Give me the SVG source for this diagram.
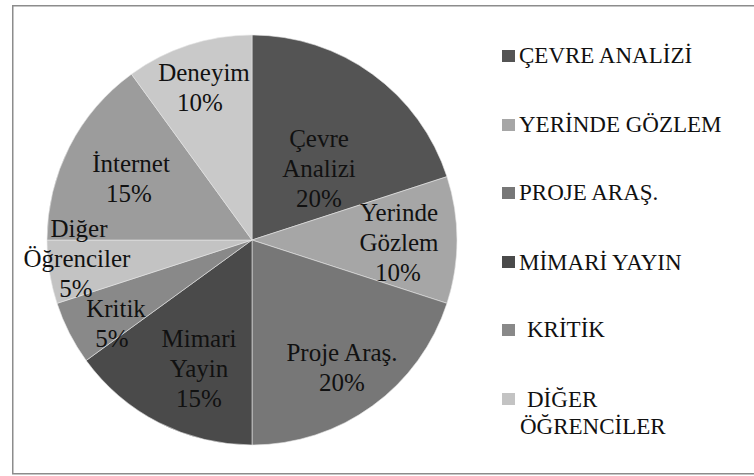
<svg xmlns="http://www.w3.org/2000/svg" width="754" height="476" viewBox="0 0 754 476">
<style>
.slice{stroke:#e6e6e6;stroke-width:0.6}
.lbl{font-size:25px;fill:#111;text-anchor:middle}
.leg{font-size:23px;fill:#111}
</style>
<rect x="0" y="0" width="754" height="476" fill="#ffffff"/>
<rect x="12.75" y="5.75" width="750" height="468" fill="#ffffff" stroke="#8c8c8c" stroke-width="1.5"/>
<g id="connectors"></g>
<g font-family="Liberation Serif, serif">
<g id="slice-cevre">
<path class="slice" fill="#545454" d="M252,240 L252,35 A205,205 0 0 1 446.97,176.65 Z"/>
<text class="lbl" x="319" y="147">Çevre</text>
<text class="lbl" x="319" y="177">Analizi</text>
<text class="lbl" x="319" y="207">20%</text>
</g>
<g id="slice-yerinde">
<path class="slice" fill="#a6a6a6" d="M252,240 L446.97,176.65 A205,205 0 0 1 446.97,303.35 Z"/>
<text class="lbl" x="399" y="221">Yerinde</text>
<text class="lbl" x="399" y="251">Gözlem</text>
<text class="lbl" x="398" y="281">10%</text>
</g>
<g id="slice-proje">
<path class="slice" fill="#777777" d="M252,240 L446.97,303.35 A205,205 0 0 1 252,445 Z"/>
<text class="lbl" x="342" y="361">Proje Araş.</text>
<text class="lbl" x="342" y="391">20%</text>
</g>
<g id="slice-mimari">
<path class="slice" fill="#4a4a4a" d="M252,240 L252,445 A205,205 0 0 1 86.15,360.5 Z"/>
<text class="lbl" x="199" y="347">Mimari</text>
<text class="lbl" x="199" y="377">Yayin</text>
<text class="lbl" x="199" y="407">15%</text>
</g>
<g id="slice-kritik">
<path class="slice" fill="#898989" d="M252,240 L86.15,360.5 A205,205 0 0 1 57.03,303.35 Z"/>
</g>
<g id="slice-diger">
<path class="slice" fill="#c3c3c3" d="M252,240 L57.03,303.35 A205,205 0 0 1 47,240 Z"/>
</g>
<g id="slice-internet">
<path class="slice" fill="#9c9c9c" d="M252,240 L47,240 A205,205 0 0 1 131.5,74.15 Z"/>
<text class="lbl" x="131" y="172">İnternet</text>
<text class="lbl" x="129" y="202">15%</text>
</g>
<g id="slice-deneyim">
<path class="slice" fill="#c9c9c9" d="M252,240 L131.5,74.15 A205,205 0 0 1 252,35 Z"/>
<text class="lbl" x="204" y="81">Deneyim</text>
<text class="lbl" x="200" y="111">10%</text>
</g>
<g id="label-diger">
<text class="lbl" x="79" y="237">Diğer</text>
<text class="lbl" x="77" y="267">Öğrenciler</text>
<text class="lbl" x="76" y="297">5%</text>
</g>
<g id="label-kritik">
<text class="lbl" x="116" y="317">Kritik</text>
<text class="lbl" x="112" y="347">5%</text>
</g>
<g id="legend">
<g id="leg-1"><rect x="502" y="50" width="13" height="12" fill="#545454"/><text class="leg" x="519" y="63">ÇEVRE ANALİZİ</text></g>
<g id="leg-2"><rect x="502" y="119" width="13" height="12" fill="#a6a6a6"/><text class="leg" x="519" y="132">YERİNDE GÖZLEM</text></g>
<g id="leg-3"><rect x="502" y="187" width="13" height="12" fill="#777777"/><text class="leg" x="519" y="200">PROJE ARAŞ.</text></g>
<g id="leg-4"><rect x="502" y="256" width="13" height="12" fill="#4a4a4a"/><text class="leg" x="519" y="270">MİMARİ YAYIN</text></g>
<g id="leg-5"><rect x="502" y="324" width="13" height="12" fill="#898989"/><text class="leg" x="527" y="337">KRİTİK</text></g>
<g id="leg-6"><rect x="502" y="393" width="13" height="12" fill="#c3c3c3"/><text class="leg" x="527" y="407">DİĞER</text><text class="leg" x="520" y="434">ÖĞRENCİLER</text></g>
</g>
</g>
</svg>
